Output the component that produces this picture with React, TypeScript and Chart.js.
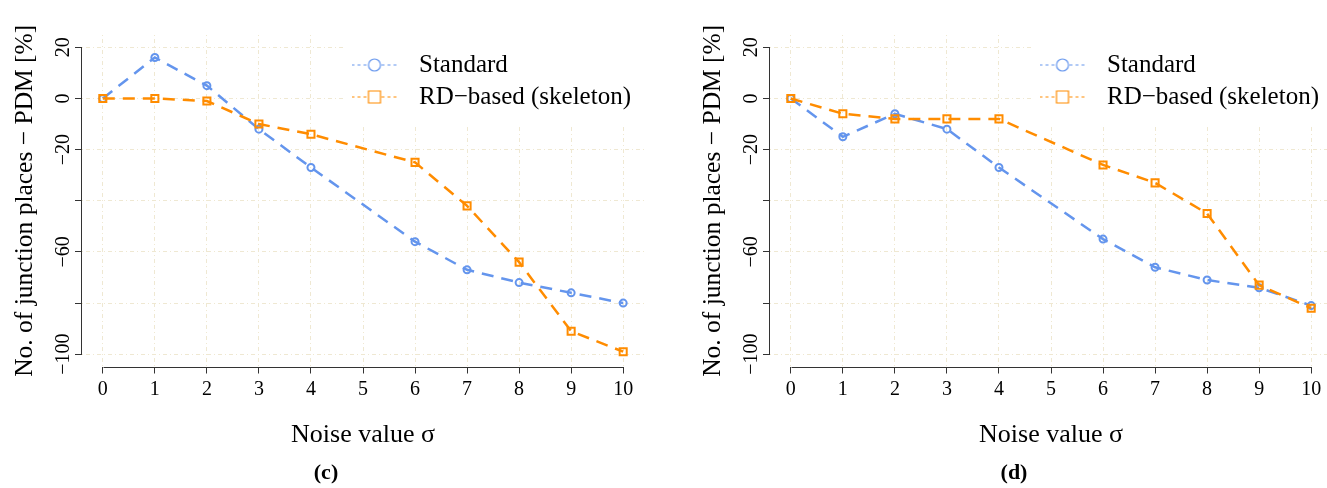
import { useEffect, useRef } from 'react';
import { Chart, registerables } from 'chart.js';

Chart.register(...registerables);

// ---------------- data ----------------
const NOISE_VALUES = [0, 1, 2, 3, 4, 6, 7, 8, 9, 10];

const STANDARD_C = [0, 16, 5, -12, -27, -56, -67, -72, -76, -80];
const SKELETON_C = [0, 0, -1, -10, -14, -25, -42, -64, -91, -99];

const STANDARD_D = [0, -15, -6, -12, -27, -55, -66, -71, -74, -81];
const SKELETON_D = [0, -6, -8, -8, -8, -26, -33, -45, -73, -82];

const SERIES_NAMES = ['Standard', 'RD\u2212based (skeleton)'];
const Y_LABELED_TICKS = [20, 0, -20, -60, -100];
const X_TITLE = 'Noise value \u03c3';
const Y_TITLE = 'No. of junction places \u2212 PDM [%]';
const PANEL_TAGS = ['(c)', '(d)'];

// ---------------- style ----------------
const FONT = "'Liberation Serif', 'Times New Roman', serif";
const BLUE = '#6495ED';
const ORANGE = '#FF8C00';
const GRID = '#EFE8D2';
const AXIS = '#333333';

function fmt(v: number): string {
  return v < 0 ? '\u2212' + Math.abs(v) : String(v);
}

function legendGlyph(color: string, shape: 'circle' | 'square'): HTMLCanvasElement {
  const c = document.createElement('canvas');
  c.width = 46;
  c.height = 16;
  const g = c.getContext('2d')!;
  g.strokeStyle = color;
  g.lineWidth = 1;
  g.setLineDash([3, 3]);
  g.beginPath();
  g.moveTo(0, 8);
  g.lineTo(46, 8);
  g.stroke();
  g.setLineDash([]);
  g.lineWidth = 1.2;
  g.fillStyle = '#ffffff';
  g.beginPath();
  if (shape === 'circle') g.arc(23, 8, 6, 0, Math.PI * 2);
  else g.rect(17, 2, 12, 12);
  g.fill();
  g.stroke();
  return c;
}

const decorPlugin = {
  id: 'panelDecor',
  afterLayout(chart: any) {
    const lg = chart.legend;
    if (lg) {
      lg.left = 335.5;
      lg.top = 45.5;
      lg.right = lg.left + 340;
      lg.bottom = lg.top + 160;
    }
  },
  beforeDatasetsDraw(chart: any) {
    const { ctx, chartArea } = chart;
    ctx.save();
    ctx.fillStyle = '#ffffff';
    ctx.fillRect(345, chartArea.top - 1, chartArea.right - 345 + 2, 126 - chartArea.top + 1);
    ctx.restore();
    if (chart.legend) chart.legend.draw();
  },
  afterDraw(chart: any) {
    const { ctx, chartArea } = chart;
    const xs = chart.scales.x;
    const ys = chart.scales.y;
    const xt = xs.ticks;
    const yt = ys.ticks;
    ctx.save();
    ctx.strokeStyle = AXIS;
    ctx.lineWidth = 1;
    ctx.beginPath();
    const lx = Math.round(chartArea.left) - 0.5;
    ctx.moveTo(lx, Math.round(ys.getPixelForValue(yt[0].value)) + 0.5);
    ctx.lineTo(lx, Math.round(ys.getPixelForValue(yt[yt.length - 1].value)) + 0.5);
    const by = Math.round(chartArea.bottom) + 0.5;
    ctx.moveTo(Math.round(xs.getPixelForValue(xt[0].value)) + 0.5, by);
    ctx.lineTo(Math.round(xs.getPixelForValue(xt[xt.length - 1].value)) + 0.5, by);
    ctx.stroke();
    ctx.restore();
  },
};

function Panel({ standard, skeleton, tag }: { standard: number[]; skeleton: number[]; tag: string }) {
  const ref = useRef<HTMLCanvasElement>(null);

  useEffect(() => {
    const canvas = ref.current;
    if (!canvas) return;
    const glyphs = [legendGlyph(BLUE, 'circle'), legendGlyph(ORANGE, 'square')];
    const toPts = (ys: number[]) => NOISE_VALUES.map((x, i) => ({ x, y: ys[i] }));

    const chart = new Chart(canvas, {
      type: 'line',
      data: {
        datasets: [
          {
            label: SERIES_NAMES[0],
            data: toPts(standard),
            borderColor: BLUE,
            borderWidth: 2.5,
            borderDash: [12, 8],
            pointStyle: 'circle',
            pointRadius: 3.5,
            pointBorderWidth: 2,
            pointBorderColor: BLUE,
            pointBackgroundColor: 'rgba(255,255,255,0)',
            fill: false,
            tension: 0,
            order: 1,
          },
          {
            label: SERIES_NAMES[1],
            data: toPts(skeleton),
            borderColor: ORANGE,
            borderWidth: 2.5,
            borderDash: [12, 8],
            pointStyle: 'rect',
            pointRadius: 5,
            pointBorderWidth: 2,
            pointBorderColor: ORANGE,
            pointBackgroundColor: 'rgba(255,255,255,0)',
            fill: false,
            tension: 0,
            order: 0,
          },
        ],
      } as any,
      options: {
        animation: false,
        responsive: false,
        maintainAspectRatio: false,
        devicePixelRatio: 1,
        events: [],
        layout: { padding: { left: 8, right: 44, top: 35, bottom: 0 } },
        scales: {
          x: {
            type: 'linear',
            min: -0.4,
            max: 10.4,
            afterFit: (s: any) => {
              s.height = 84.5;
            },
            grid: { color: GRID, lineWidth: 1, tickLength: 7, tickColor: AXIS, tickWidth: 1 },
            border: { display: false, dash: [1, 3, 4, 3] },
            ticks: {
              stepSize: 1,
              includeBounds: false,
              autoSkip: false,
              maxRotation: 0,
              minRotation: 0,
              padding: 4,
              color: '#000',
              font: { family: FONT, size: 20 },
              callback: (v: any) => String(v),
            },
            title: {
              display: true,
              text: X_TITLE,
              color: '#000',
              font: { family: FONT, size: 26, lineHeight: 1.2 },
              padding: { top: 0, bottom: 0.5 },
            },
          },
          y: {
            type: 'linear',
            min: -104.8,
            max: 24.8,
            afterFit: (s: any) => {
              s.width = 74;
            },
            grid: { color: GRID, lineWidth: 1, tickLength: 7, tickColor: AXIS, tickWidth: 1 },
            border: { display: false, dash: [1, 3, 4, 3] },
            ticks: {
              stepSize: 20,
              includeBounds: false,
              minRotation: 90,
              maxRotation: 90,
              crossAlign: 'center',
              padding: -9,
              color: '#000',
              font: { family: FONT, size: 20 },
              callback: (v: any) => (Y_LABELED_TICKS.includes(Number(v)) ? fmt(Number(v)) : ''),
            },
            title: {
              display: true,
              text: Y_TITLE,
              color: '#000',
              font: { family: FONT, size: 25.5, lineHeight: 1.2 },
              padding: { top: 1.5, bottom: 0 },
            },
          },
        },
        plugins: {
          tooltip: { enabled: false },
          legend: {
            display: true,
            position: 'chartArea',
            align: 'start',
            labels: {
              usePointStyle: true,
              pointStyleWidth: 64,
              padding: 7,
              color: '#000',
              font: { family: FONT, size: 25 },
              generateLabels: () =>
                SERIES_NAMES.map((name, i) => ({
                  text: name,
                  pointStyle: glyphs[i],
                  fillStyle: 'rgba(0,0,0,0)',
                  strokeStyle: 'rgba(0,0,0,0)',
                  lineWidth: 0,
                  hidden: false,
                  datasetIndex: i,
                  fontColor: '#000',
                })) as any,
            },
          },
          title: {
            display: true,
            text: tag,
            position: 'bottom',
            color: '#000',
            font: { family: FONT, size: 22, weight: 'bold', lineHeight: 1.2 },
            padding: { top: 9.4, bottom: 1.2 },
          },
        },
      } as any,
      plugins: [decorPlugin as any],
    });

    return () => chart.destroy();
  }, [standard, skeleton, tag]);

  return <canvas ref={ref} width={688} height={488} style={{ display: 'block', width: 688, height: 488 }} />;
}

export default function App() {
  return (
    <div
      style={{
        position: 'absolute',
        left: 0,
        top: 0,
        width: 1327,
        height: 488,
        overflow: 'hidden',
        background: '#ffffff',
      }}
    >
      <div style={{ position: 'absolute', left: 0, top: 0 }}>
        <Panel standard={STANDARD_C} skeleton={SKELETON_C} tag={PANEL_TAGS[0]} />
      </div>
      <div style={{ position: 'absolute', left: 688, top: 0 }}>
        <Panel standard={STANDARD_D} skeleton={SKELETON_D} tag={PANEL_TAGS[1]} />
      </div>
    </div>
  );
}
